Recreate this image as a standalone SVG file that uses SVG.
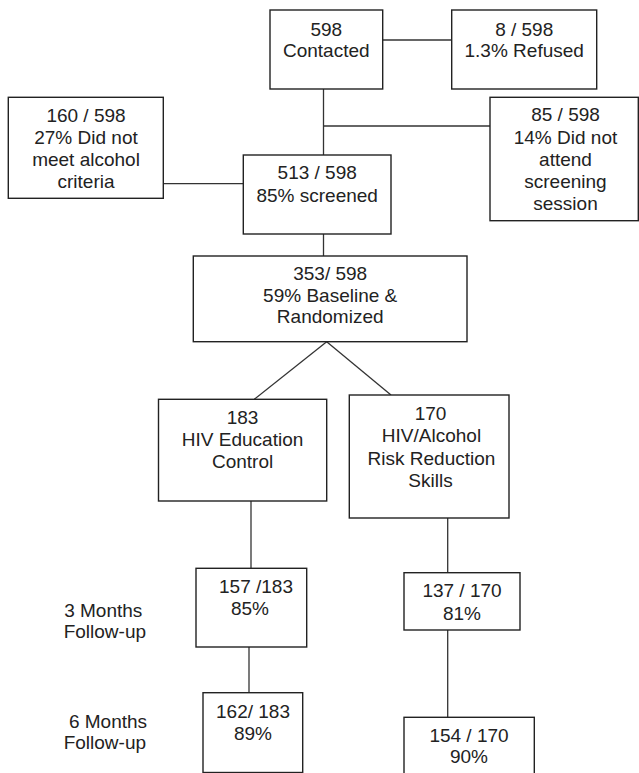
<svg xmlns="http://www.w3.org/2000/svg" width="639" height="773" viewBox="0 0 639 773">
<style>
.box{fill:#fff;stroke:#222;stroke-width:1.4}
.t{font-family:"Liberation Sans",Arial,sans-serif;font-size:19px;fill:#222;text-anchor:middle}
.l{font-family:"Liberation Sans",Arial,sans-serif;font-size:19px;fill:#222}
.c line{stroke:#333;stroke-width:1.3}
</style>
<rect width="639" height="773" fill="#fff"/>
<g class="c" id="connectors">
<line x1="382.7" y1="40" x2="451.7" y2="40"/>
<line x1="323.5" y1="89" x2="323.5" y2="155"/>
<line x1="323.5" y1="126" x2="490" y2="126"/>
<line x1="163.3" y1="183.7" x2="243.3" y2="183.7"/>
<line x1="323.5" y1="234" x2="323.5" y2="256"/>
<line x1="326.7" y1="341.7" x2="254.3" y2="399.3"/>
<line x1="326.7" y1="341.7" x2="391" y2="395"/>
<line x1="251" y1="501" x2="251" y2="568.3"/>
<line x1="447.7" y1="518" x2="447.7" y2="572.7"/>
<line x1="249" y1="647" x2="249" y2="692.7"/>
<line x1="447.7" y1="630" x2="447.7" y2="717.3"/>
</g>
<g id="contacted">
<rect class="box" x="270" y="10" width="112.7" height="79"/>
<text class="t" x="326.3" y="36">598</text>
<text class="t" x="326.3" y="57.3">Contacted</text>
</g>
<g id="refused">
<rect class="box" x="451.7" y="10" width="145" height="79"/>
<text class="t" x="524.2" y="36">8 / 598</text>
<text class="t" x="524.2" y="57.3">1.3% Refused</text>
</g>
<g id="alcohol">
<rect class="box" x="8.3" y="97.3" width="155" height="101"/>
<text class="t" x="86" y="122">160 / 598</text>
<text class="t" x="86" y="144">27% Did not</text>
<text class="t" x="86" y="166">meet alcohol</text>
<text class="t" x="86" y="188">criteria</text>
</g>
<g id="noattend">
<rect class="box" x="490" y="97.3" width="148.3" height="123.4"/>
<text class="t" x="565.5" y="121">85 / 598</text>
<text class="t" x="565.5" y="143.5">14% Did not</text>
<text class="t" x="565.5" y="166">attend</text>
<text class="t" x="565.5" y="188">screening</text>
<text class="t" x="565.5" y="210">session</text>
</g>
<g id="screened">
<rect class="box" x="243.3" y="155" width="147.7" height="79"/>
<text class="t" x="317.2" y="179">513 / 598</text>
<text class="t" x="317.2" y="201.7">85% screened</text>
</g>
<g id="baseline">
<rect class="box" x="193.3" y="256" width="273.7" height="85.7"/>
<text class="t" x="330.2" y="280">353/ 598</text>
<text class="t" x="330.2" y="301.7">59% Baseline &amp;</text>
<text class="t" x="330.2" y="323.3">Randomized</text>
</g>
<g id="hived">
<rect class="box" x="158.5" y="399.3" width="168.2" height="101.7"/>
<text class="t" x="242.6" y="424">183</text>
<text class="t" x="242.6" y="445.7">HIV Education</text>
<text class="t" x="242.6" y="468.3">Control</text>
</g>
<g id="hivalc">
<rect class="box" x="349.3" y="395" width="159.7" height="123"/>
<text class="t" x="430.5" y="420">170</text>
<text class="t" x="431.5" y="442.3">HIV/Alcohol</text>
<text class="t" x="431.5" y="465">Risk Reduction</text>
<text class="t" x="430.5" y="486.5">Skills</text>
</g>
<g id="ed3">
<rect class="box" x="196" y="568.3" width="110.7" height="78.7"/>
<text class="t" x="256" y="592.7">157 /183</text>
<text class="t" x="250" y="615">85%</text>
</g>
<g id="ed6">
<rect class="box" x="203" y="692.7" width="99.7" height="79.8"/>
<text class="t" x="253" y="718.3">162/ 183</text>
<text class="t" x="253" y="740">89%</text>
</g>
<g id="alc3">
<rect class="box" x="404" y="572.7" width="116" height="57.3"/>
<text class="t" x="462" y="596.7">137 / 170</text>
<text class="t" x="462" y="620">81%</text>
</g>
<g id="alc6">
<rect class="box" x="404" y="717.3" width="130.3" height="70"/>
<text class="t" x="469" y="741.7">154 / 170</text>
<text class="t" x="469" y="763.3">90%</text>
</g>
<g id="labels">
<text class="l" x="64.2" y="616.7">3 Months</text>
<text class="l" x="63.7" y="638">Follow-up</text>
<text class="l" x="68.9" y="727.5">6 Months</text>
<text class="l" x="63.7" y="749">Follow-up</text>
</g>
</svg>
